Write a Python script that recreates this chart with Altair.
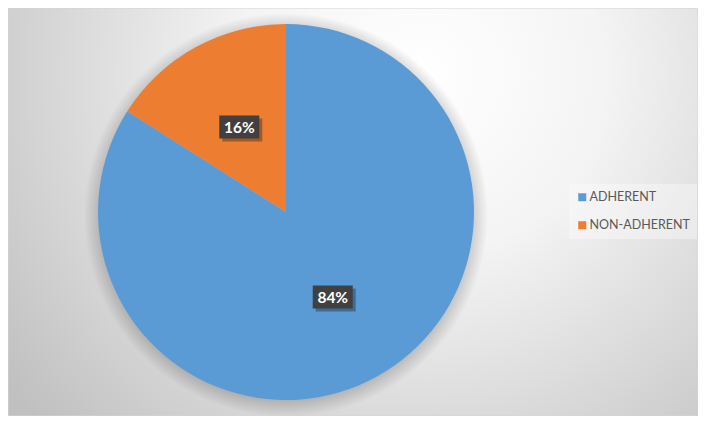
import altair as alt
import pandas as pd

categories = ["ADHERENT", "NON-ADHERENT"]
values = [84, 16]
labels = ["84%", "16%"]
order = [0, 1]
colors = ["#5B9BD5", "#ED7D31"]

W, H = 690, 408
CX, CY = 278, 204
R = 188
LR = 97

df = pd.DataFrame({"category": categories, "value": values, "label": labels, "order": order})
one = pd.DataFrame({"k": [0]})

bg = alt.Chart(one).mark_rect(
    fill={
        "gradient": "radial",
        "x1": 0.6, "y1": 0.3, "r1": 0.0,
        "x2": 0.6, "y2": 0.3, "r2": 0.75,
        "stops": [
            {"offset": 0.0, "color": "#ffffff"},
            {"offset": 0.35, "color": "#f4f4f4"},
            {"offset": 1.0, "color": "#c0c0c0"},
        ],
    },
    stroke="#d4d4d4",
    strokeWidth=1,
).encode(x=alt.value(0), x2=alt.value(W), y=alt.value(0), y2=alt.value(H))

shadow = alt.Chart(one).mark_arc(
    theta=0, theta2=6.2832, outerRadius=202,
    fill={
        "gradient": "radial",
        "x1": 0.5, "y1": 0.5, "r1": 0.0,
        "x2": 0.5, "y2": 0.5, "r2": 0.5,
        "stops": [
            {"offset": 0.9, "color": "rgba(0,0,0,0.22)"},
            {"offset": 1.0, "color": "rgba(0,0,0,0)"},
        ],
    },
).encode(x=alt.value(CX), y=alt.value(CY + 3))

pie = alt.Chart(df).mark_arc(outerRadius=R).encode(
    theta=alt.Theta("value:Q", stack=True),
    color=alt.Color(
        "category:N",
        scale=alt.Scale(domain=categories, range=colors),
        sort=categories,
        legend=alt.Legend(
            title=None,
            orient="none",
            legendX=561,
            legendY=176,
            symbolType="square",
            symbolSize=64,
            symbolStrokeWidth=0,
            labelFont="Lato",
            labelFontSize=12.5,
            labelColor="#595959",
            labelOffset=1,
            rowPadding=15,
            padding=7,
            fillColor="rgba(255,255,255,0.35)",
        ),
    ),
    order=alt.Order("order:Q"),
    x=alt.value(CX),
    y=alt.value(CY),
)

pos = (
    alt.Chart(df)
    .transform_joinaggregate(total="sum(value)")
    .transform_window(cum="sum(value)", sort=[alt.SortField("order")], frame=[None, 0])
    .transform_calculate(
        mid="(datum.cum - datum.value / 2) / datum.total * 2 * PI",
    )
    .transform_calculate(
        px=f"{CX} + {LR} * sin(datum.mid)",
        py=f"{CY} - {LR} * cos(datum.mid)",
    )
)

box_shape = "M-1,-0.575H1V0.575H-1Z"
xy = dict(x=alt.X("px:Q", scale=None, axis=None), y=alt.Y("py:Q", scale=None, axis=None))

box_shadow = pos.mark_point(
    shape=box_shape, size=1600, filled=True, fill="#000000", opacity=0.3,
    xOffset=3, yOffset=3, strokeWidth=0,
).encode(**xy)

box = pos.mark_point(
    shape=box_shape, size=1600, filled=True, fill="#404040", opacity=1, strokeWidth=0,
).encode(**xy)

txt = pos.mark_text(
    font="Lato", fontWeight="bold", fontSize=15.5, color="#ffffff", baseline="middle", align="center",
    dy=1,
).encode(text="label:N", **xy)

chart = alt.layer(bg, shadow, pie, box_shadow, box, txt).properties(
    width=W, height=H, padding=0, autosize=alt.AutoSizeParams(type="none")
).configure_view(stroke=None).configure(background="#ffffff")

chart.save("out.html", embed_options={"renderer": "svg", "actions": False})
